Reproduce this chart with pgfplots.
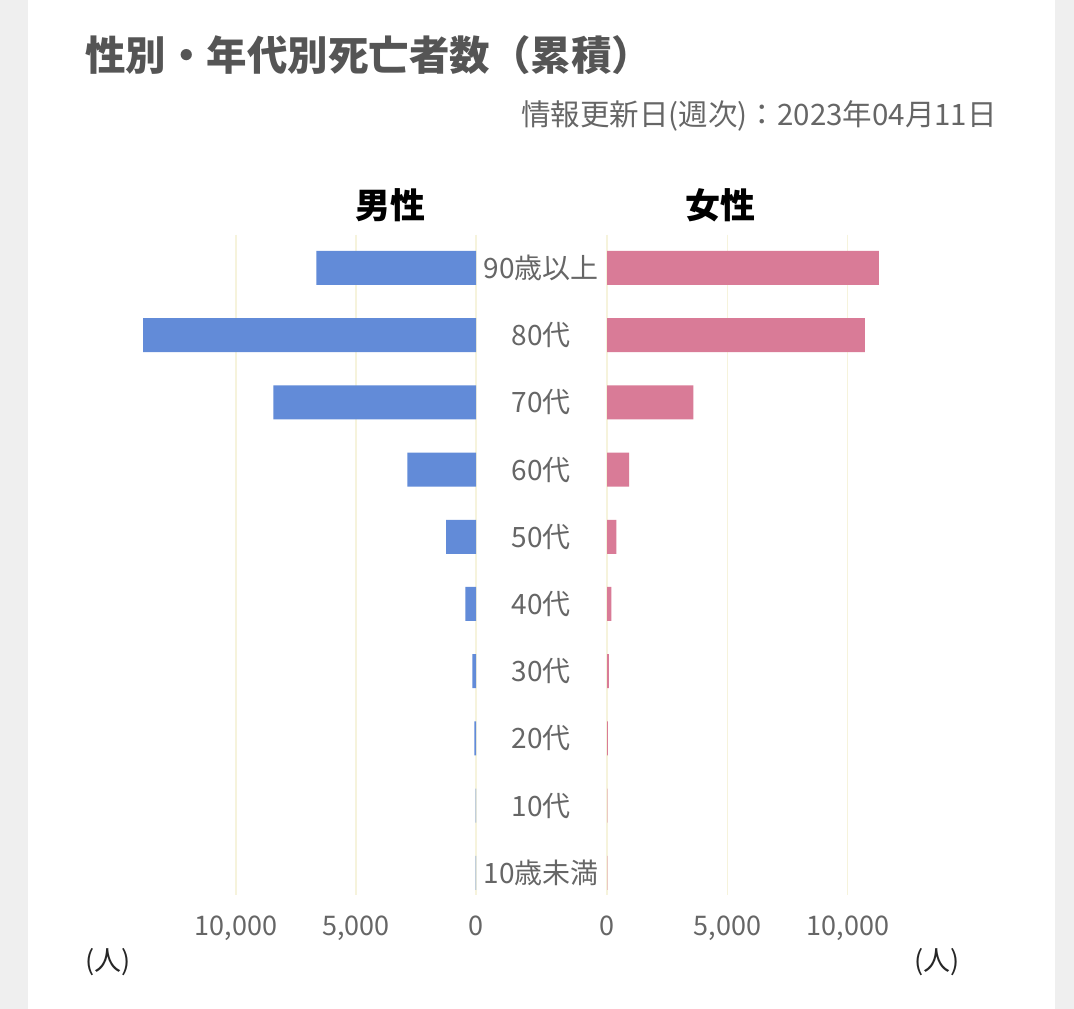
\documentclass[border=0pt]{standalone}
\usepackage{fontspec}
\setmainfont{Noto Sans CJK JP}
\usepackage{pgfplots}
\pgfplotsset{compat=1.18}
\definecolor{bgray}{HTML}{EFEFEF}
\definecolor{mblue}{HTML}{628BD8}
\definecolor{fpink}{HTML}{D97B97}
\definecolor{gridc}{HTML}{F6F3DC}
\definecolor{tgray}{HTML}{555555}
\definecolor{lgray}{HTML}{666666}
\begin{document}
\begin{tikzpicture}[x=1pt,y=1pt]
\fill[bgray] (0,0) rectangle (1074,1009);
\fill[white] (28,0) rectangle (1055,1009);
% titles
\node[anchor=west,text=tgray,font=\fontsize{40.5}{42}\selectfont\bfseries,inner sep=0] at (85,954) {性別・年代別死亡者数（累積）};
\node[anchor=east,text=lgray,font=\fontsize{29.5}{31}\selectfont,inner sep=0] at (997,893) {情報更新日(週次)：2023年04月11日};
\node[text=black,font=\fontsize{35}{37}\selectfont\bfseries,inner sep=0] at (390,804) {男性};
\node[text=black,font=\fontsize{35}{37}\selectfont\bfseries,inner sep=0] at (720,804) {女性};
\node[anchor=west,text=black!85,font=\fontsize{27}{29}\selectfont,inner sep=0] at (85,47) {(人)};
\node[anchor=east,text=black!85,font=\fontsize{27}{29}\selectfont,inner sep=0] at (960,47) {(人)};
\pgfplotsset{
  pyr/.style={
    scale only axis,
    height=660pt,
    ymin=-0.49, ymax=9.33,
    y dir=reverse,
    xbar, bar width=34pt,
    axis line style={draw=none},
    major tick length=0pt,
    tick style={draw=none},
    xmajorgrids,
    grid style={gridc, line width=1.2pt},
    xtick={0,5000,10000},
    scaled x ticks=false,
    /pgf/number format/1000 sep={,},
    /pgf/number format/assume math mode=true,
    xticklabel style={font=\fontsize{27}{29}\selectfont, text=lgray, anchor=base, yshift=-40pt},
    clip=false,
  }
}
\begin{axis}[pyr,
  at={(140pt,114pt)}, anchor=south west,
  width=336pt,
  xmin=0, xmax=14000, x dir=reverse,
  ytick={0,...,9},
  yticklabel pos=right,
  yticklabels={90歳以上,80代,70代,60代,50代,40代,30代,20代,10代,10歳未満},
  yticklabel style={font=\fontsize{28}{30}\selectfont, text=lgray, anchor=center, xshift=65pt},
]
\addplot[fill=mblue, draw=none] coordinates {
(6650,0) (13870,1) (8440,2) (2860,3) (1250,4) (445,5) (150,6) (65,7) (20,8) (15,9)};
\end{axis}
\begin{axis}[pyr,
  at={(607pt,114pt)}, anchor=south west,
  width=289pt,
  xmin=0, xmax=12000,
  ytick=\empty,
]
\addplot[fill=fpink, draw=none] coordinates {
(11290,0) (10710,1) (3590,2) (920,3) (385,4) (180,5) (75,6) (40,7) (15,8) (20,9)};
\end{axis}
\end{tikzpicture}
\end{document}
